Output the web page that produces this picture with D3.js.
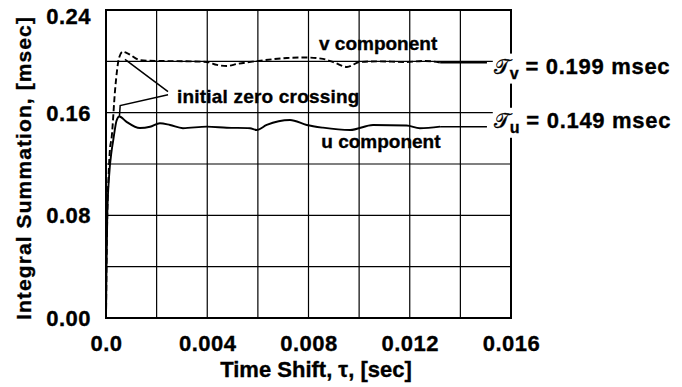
<!DOCTYPE html>
<html>
<head>
<meta charset="utf-8">
<script src="https://cdn.jsdelivr.net/npm/d3@7"></script>
<style>
  html, body { margin: 0; padding: 0; background: #fff; }
  svg { display: block; }
  text { font-family: "Liberation Sans", Arial, Helvetica, sans-serif; font-weight: bold; fill: #000;
         stroke: #000; stroke-width: 0.35px; }
</style>
</head>
<body>
<svg id="chart" width="682" height="387"></svg>
<script>
// Integral summation of the autocorrelation vs. time shift (u and v velocity components)

// u component (solid)
const uTime  = [0, 0.00002, 0.00005, 0.00012, 0.00022, 0.00029, 0.00042, 0.00053, 0.0008, 0.00134,
                0.00174, 0.00213, 0.00253, 0.00304, 0.00398, 0.00477, 0.00569, 0.00595, 0.00635,
                0.00727, 0.00793, 0.00857, 0.00964, 0.01055, 0.01188, 0.0124, 0.0132];
const uValue = [0, 0.04, 0.08, 0.11, 0.13, 0.139, 0.154, 0.157, 0.153, 0.148,
                0.149, 0.1518, 0.1504, 0.1479, 0.1491, 0.1483, 0.1479, 0.1465, 0.1504,
                0.1543, 0.1504, 0.1483, 0.1465, 0.1504, 0.150, 0.1479, 0.1491];

// v component (dashed)
const vTime  = [0, 0.00002, 0.00005, 0.0001, 0.00015, 0.000225, 0.00036, 0.00052, 0.00066, 0.00087,
                0.00134, 0.00201, 0.00332, 0.00399, 0.00438, 0.00478, 0.00518, 0.00589, 0.00715,
                0.00786, 0.00857, 0.00905, 0.00952, 0.01003, 0.0108, 0.0118, 0.0126, 0.0132];
const vValue = [0, 0.04, 0.08, 0.11, 0.13, 0.141, 0.178, 0.203, 0.2075, 0.206,
                0.201, 0.2003, 0.200, 0.1995, 0.1972, 0.1964, 0.198, 0.200, 0.2026,
                0.203, 0.2019, 0.1988, 0.1956, 0.1995, 0.200, 0.1995, 0.2003, 0.199];

// integral time scales stated on the chart
const scaleU = 0.149;   // msec
const scaleV = 0.199;   // msec

// axes
const xDomain = [0, 0.016];
const yDomain = [0, 0.24];
const xGrid = [0.002, 0.004, 0.006, 0.008, 0.010, 0.012, 0.014];
const yGrid = [0.04, 0.08, 0.12, 0.16, 0.20];
const xTicks = [0, 0.004, 0.008, 0.012, 0.016];
const xTickLabels = ["0.0", "0.004", "0.008", "0.012", "0.016"];
const yTicks = [0, 0.08, 0.16, 0.24];
const yTickLabels = ["0.00", "0.08", "0.16", "0.24"];

const svg = d3.select("#chart");
const plot = { left: 106, right: 511, top: 10, bottom: 318 };

const x = d3.scaleLinear().domain(xDomain).range([plot.left, plot.right]);
const y = d3.scaleLinear().domain(yDomain).range([plot.bottom, plot.top]);

// grid
const grid = svg.append("g").attr("stroke", "#000").attr("stroke-width", 1.2);
grid.selectAll("line.gx").data(xGrid).join("line")
  .attr("x1", d => x(d)).attr("x2", d => x(d))
  .attr("y1", y(yDomain[0])).attr("y2", y(yDomain[1]));
grid.selectAll("line.gy").data(yGrid).join("line")
  .attr("y1", d => y(d)).attr("y2", d => y(d))
  .attr("x1", x(xDomain[0])).attr("x2", x(xDomain[1]));

// frame
svg.append("rect")
  .attr("x", x(xDomain[0])).attr("y", y(yDomain[1]))
  .attr("width", x(xDomain[1]) - x(xDomain[0]))
  .attr("height", y(yDomain[0]) - y(yDomain[1]))
  .attr("fill", "none").attr("stroke", "#000").attr("stroke-width", 2);

// tick labels
const xAxis = d3.axisBottom(x).tickValues(xTicks).tickSize(0).tickPadding(17)
  .tickFormat((d, i) => xTickLabels[i]);
const gx = svg.append("g").attr("transform", `translate(0,${plot.bottom})`).call(xAxis);
gx.select(".domain").remove();
gx.selectAll("text").attr("font-size", 22).attr("letter-spacing", 0.5)
  .attr("font-family", null).attr("fill", "#000");

const yAxis = d3.axisLeft(y).tickValues(yTicks).tickSize(0).tickPadding(15)
  .tickFormat((d, i) => yTickLabels[i]);
const gy = svg.append("g").attr("transform", `translate(${plot.left},0)`).call(yAxis);
gy.select(".domain").remove();
gy.selectAll("text").attr("font-size", 22).attr("letter-spacing", 0.5)
  .attr("font-family", null).attr("fill", "#000")
  .attr("dy", d => d === yDomain[1] ? "0.62em" : "0.34em");

// axis titles
svg.append("text")
  .attr("x", 316).attr("y", 377)
  .attr("text-anchor", "middle").attr("font-size", 22)
  .text("Time Shift, τ, [sec]");
svg.append("text")
  .attr("transform", `translate(31,${(plot.top + plot.bottom) / 2 + 4}) rotate(-90)`)
  .attr("text-anchor", "middle").attr("font-size", 21).attr("letter-spacing", 1.1)
  .text("Integral Summation, [msec]");

// curves
const curve = d3.line().x(d => x(d[0])).y(d => y(d[1])).curve(d3.curveMonotoneX);
const straight = d3.line().x(d => x(d[0])).y(d => y(d[1]));
const uData = uTime.map((t, i) => [t, uValue[i]]);
const vData = vTime.map((t, i) => [t, vValue[i]]);

svg.append("path").datum(uData).attr("d", curve)
  .attr("fill", "none").attr("stroke", "#000").attr("stroke-width", 1.9)
  .attr("stroke-linejoin", "round");
svg.append("path").datum(vData).attr("d", curve)
  .attr("fill", "none").attr("stroke", "#000").attr("stroke-width", 1.9)
  .attr("stroke-dasharray", "6,3").attr("stroke-linejoin", "round");

// leaders to the integral-scale labels
const labelStart = 0.01532;
const leaderEnd = 0.01505;
svg.append("line")
  .attr("x1", x(uTime[uTime.length - 1])).attr("x2", x(leaderEnd))
  .attr("y1", y(scaleU)).attr("y2", y(scaleU))
  .attr("stroke", "#000").attr("stroke-width", 1.6);
svg.append("line")
  .attr("x1", x(vTime[vTime.length - 1])).attr("x2", x(leaderEnd))
  .attr("y1", y(scaleV)).attr("y2", y(scaleV))
  .attr("stroke", "#000").attr("stroke-width", 1.6);

function scaleLabel(value, sub, baselineOffset) {
  const g = svg.append("g");
  const bg = g.append("rect").attr("fill", "#fff");
  const t = g.append("text")
    .attr("x", x(labelStart)).attr("y", y(value) + baselineOffset)
    .attr("font-size", 22);
  t.append("tspan").attr("font-family", "'DejaVu Serif', 'DejaVu Sans', serif")
    .attr("font-weight", "normal").attr("font-size", 21).text("𝒯");
  t.append("tspan").attr("font-size", 16).attr("dy", 5).text(sub);
  t.append("tspan").attr("dy", -5).attr("letter-spacing", 0.7)
    .text(` = ${d3.format(".3f")(value)} msec`);
  const b = t.node().getBBox();
  bg.attr("x", b.x - 1).attr("y", b.y).attr("width", b.width + 2).attr("height", b.height + 2);
}
scaleLabel(scaleV, "v", 11);
scaleLabel(scaleU, "u", 1);

// component labels
svg.append("text").attr("x", x(0.01075)).attr("y", 50)
  .attr("text-anchor", "middle").attr("font-size", 19).text("v component");
svg.append("text").attr("x", x(0.01086)).attr("y", 148)
  .attr("text-anchor", "middle").attr("font-size", 19).text("u component");

// "initial zero crossing" callout pointing at the first peaks
const callout = { t: 0.00245, v: 0.1754 };
svg.append("text").attr("x", x(callout.t) + 9).attr("y", y(callout.v) + 10)
  .attr("font-size", 19).attr("letter-spacing", 0.2).text("initial zero crossing");
const leaderV = [[callout.t, callout.v + 0.001], [0.00075, 0.2015]];
const leaderU = [[callout.t, callout.v - 0.0015], [0.00056, 0.1655], [0.00053, 0.157]];
[leaderV, leaderU].forEach(pts => {
  svg.append("path").datum(pts).attr("d", straight)
    .attr("fill", "none").attr("stroke", "#000").attr("stroke-width", 1.5);
});
</script>
</body>
</html>
